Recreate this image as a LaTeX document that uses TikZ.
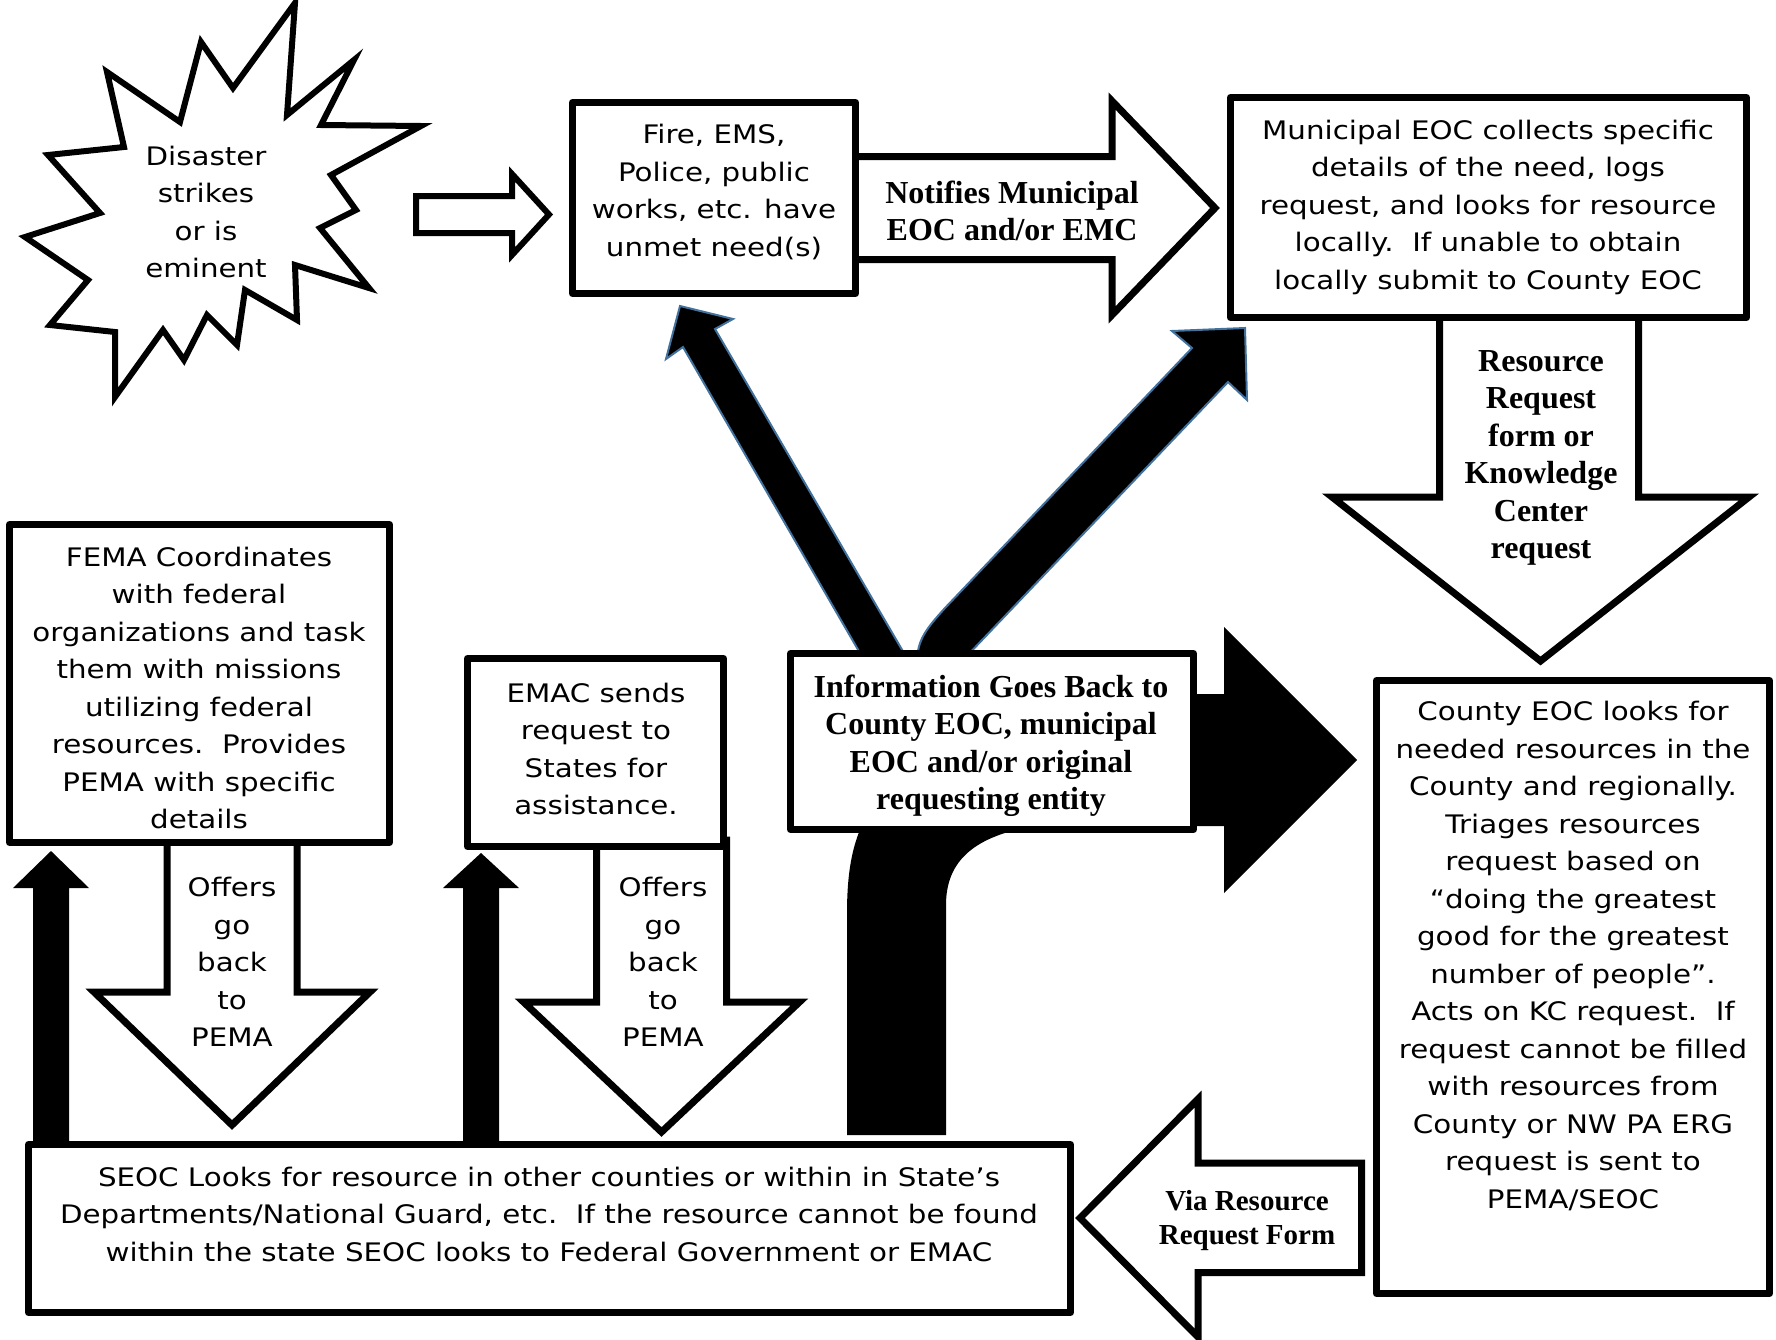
\documentclass[tikz,border=0pt]{standalone}
\usepackage{fontspec}
\setmainfont{Liberation Serif}
\newfontfamily\boxfont{DejaVu Sans}[FakeStretch=1.15]
\definecolor{arrowedge}{RGB}{65,113,156}

\begin{document}
\begin{tikzpicture}[x=1pt,y=-1pt,
    box/.style={draw, line width=7pt, fill=white, line join=round, inner sep=0pt},
    boxtext/.style={align=center, font=\boxfont\fontsize{25.5}{37.5}\selectfont},
    boldtext/.style={align=center, font=\fontsize{32}{37.5}\selectfont\bfseries},
    hollow/.style={draw, line width=7pt, fill=white, line join=miter},
    yarrow/.style={fill=black, draw=arrowedge, line width=2pt, line join=miter}]

    \useasboundingbox (0,0) rectangle (1776,1339);

    % disaster star
    \draw[line width=6pt, line join=miter, fill=white] (295,3) -- (287,115) -- (354,60) -- (321,125)
      -- (421,126) -- (331,175) -- (356,210) -- (320,228) -- (369,288) -- (295,265)
      -- (297,320) -- (245,290) -- (237,345) -- (207,315) -- (184,360) -- (163,330)
      -- (115,397) -- (115,332) -- (50,325) -- (88,280) -- (25,237) -- (100,213)
      -- (48,155) -- (124,147) -- (107,72) -- (180,122) -- (201,42) -- (233,88) -- cycle;

    % white block arrows
    \draw[hollow, line width=6pt] (416,196) -- (512,196) -- (512,174) -- (549,214.5) -- (512,255) -- (512,233) -- (416,233) -- cycle;
    \draw[hollow] (850,156.5) -- (1112,156.5) -- (1112,101) -- (1215,208) -- (1112,315) -- (1112,259.5) -- (850,259.5) -- cycle;
    \draw[hollow] (1439.5,310) -- (1439.5,497) -- (1332,497) -- (1540.5,661) -- (1749,497) -- (1638.5,497) -- (1638.5,310) -- cycle;
    \foreach \cx/\hy/\ty in {232/992/1125, 661.5/1002/1132}
      \draw[hollow] (\cx-65,840) -- (\cx-65,\hy) -- (\cx-138,\hy) -- (\cx,\ty) -- (\cx+138,\hy) -- (\cx+65,\hy) -- (\cx+65,840) -- cycle;
    \draw[hollow] (1361.5,1163) -- (1198,1163) -- (1198,1099) -- (1080,1218) -- (1198,1337) -- (1198,1272.5) -- (1361.5,1272.5) -- cycle;

    % black arrows
    \foreach \cx/\ty in {51/851, 481/853}
      \fill (\cx-18,1141) -- (\cx-18,888) -- (\cx-38,888) -- (\cx,\ty) -- (\cx+38,888) -- (\cx+18,888) -- (\cx+18,1141) -- cycle;
    \fill (1190,694) -- (1224,694) -- (1224,627) -- (1357,760) -- (1224,893) -- (1224,826) -- (1190,826) -- cycle;
    \fill (847,1135) -- (847,913) .. controls (847,870) and (853,845) .. (862,825) -- (1040,825)
      .. controls (975,835) and (946,860) .. (946,905) -- (946,1135) -- cycle;
    \draw[yarrow] (680,306) -- (733,319) -- (715,329) -- (908,660) -- (864,660) -- (683,347) -- (666,359) -- cycle;
    \draw[yarrow] (1245,328) -- (1247,400) -- (1228,382) -- (963,660) -- (917,660)
      .. controls (918,640) and (925,630) .. (945,608) -- (1192,348) -- (1172,331) -- cycle;

    % boxes
    \node[box, minimum width=283pt, minimum height=191pt] (fire) at (714,198) {};
    \node[box, minimum width=516pt, minimum height=220pt] (muni) at (1488.5,207.5) {};
    \node[box, minimum width=393pt, minimum height=613pt] (county) at (1573,987) {};
    \node[box, minimum width=403pt, minimum height=176pt] (info) at (992,741.5) {};
    \node[box, minimum width=380pt, minimum height=318pt] (fema) at (199.5,683.5) {};
    \node[box, minimum width=256pt, minimum height=188pt] (emac) at (595.5,752.5) {};
    \node[box, minimum width=1042pt, minimum height=168pt] (seoc) at (549.5,1228.5) {};

    % texts
    \node[boxtext] (disastertxt) at (206,212) {Disaster\\strikes\\or is\\eminent};
    \node[boxtext] (firetxt) at (714,192) {Fire, EMS,\\Police, public\\works, etc. have\\unmet need(s)};
    \node[boxtext] (munitxt) at (1488,207) {Municipal EOC collects specific\\details of the need, logs\\request, and looks for resource\\locally.\ \ If unable to obtain\\locally submit to County EOC};
    \node[boxtext] (countytxt) at (1573,956) {County EOC looks for\\needed resources in the\\County and regionally.\\Triages resources\\request based on\\“doing the greatest\\good for the greatest\\number of people”.\\Acts on KC request.\ \ If\\request cannot be filled\\with resources from\\County or NW PA ERG\\request is sent to\\PEMA/SEOC};
    \node[boxtext] (fematxt) at (199,688) {FEMA Coordinates\\with federal\\organizations and task\\them with missions\\utilizing federal\\resources.\ \ Provides\\PEMA with specific\\details};
    \node[boxtext] (emactxt) at (596,749) {EMAC sends\\request to\\States for\\assistance.};
    \node[boxtext] (offers1) at (232,962) {Offers\\go\\back\\to\\PEMA};
    \node[boxtext] (offers2) at (663,962) {Offers\\go\\back\\to\\PEMA};
    \node[boxtext] (seoctxt) at (549,1214) {SEOC Looks for resource in other counties or within in State’s\\Departments/National Guard, etc.\ \ If the resource cannot be found\\within the state SEOC looks to Federal Government or EMAC};

    \node[boldtext] (notifies) at (1012,211) {Notifies Municipal\\EOC and/or EMC};
    \node[boldtext] (rrform) at (1541,458) {Resource\\Request\\form or\\Knowledge\\Center\\request};
    \node[boldtext] (infotxt) at (991,746) {Information Goes Back to\\County EOC, municipal\\EOC and/or original\\requesting entity};
    \node[align=center, font=\fontsize{29}{34}\selectfont\bfseries] (via) at (1247,1221) {Via Resource\\Request Form};
\end{tikzpicture}
\end{document}
